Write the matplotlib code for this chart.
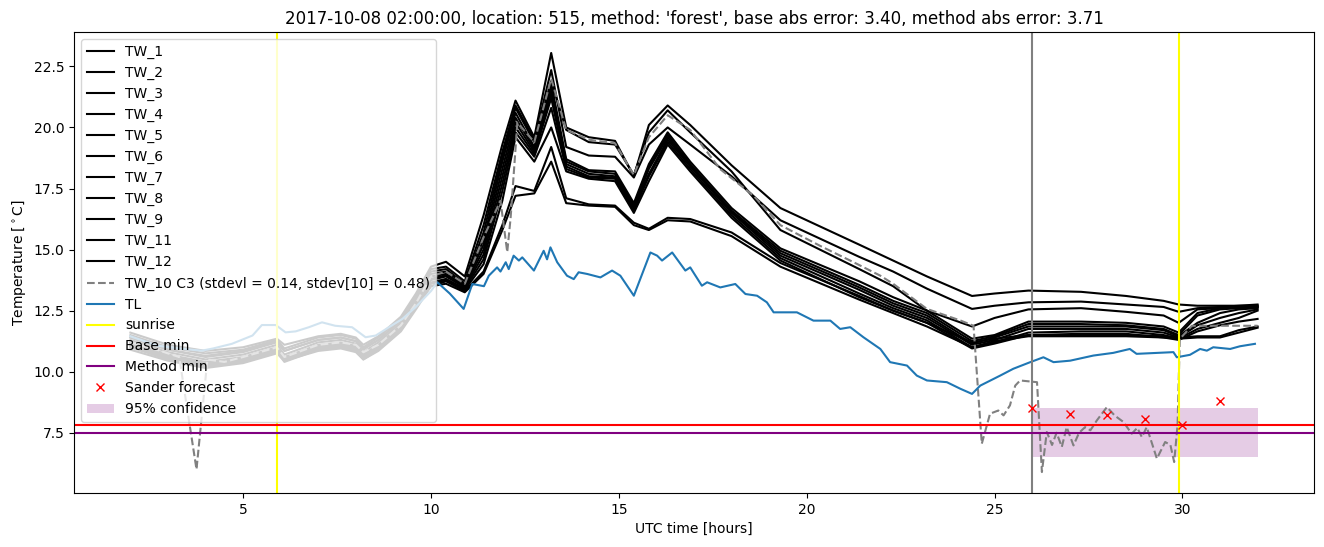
import matplotlib
matplotlib.use("Agg")
import matplotlib.pyplot as plt

title = "2017-10-08 02:00:00, location: 515, method: 'forest', base abs error: 3.40, method abs error: 3.71"

t_tw = [2.0, 3.0, 4.0, 5.0, 5.9, 6.1, 7.0, 7.6, 8.0, 8.2, 8.6, 9.2, 9.6, 10.0,
        10.4, 10.9, 11.4, 11.9, 12.25, 12.75, 13.2, 13.6, 14.2, 14.9, 15.4, 15.8, 16.3, 16.9, 18.0, 19.3,
        21.4, 22.3, 23.2, 24.4, 25.0, 25.9, 27.3, 28.5, 29.5, 29.9, 30.4, 31.0, 31.5, 32.0]

TW_1 = [11.6, 11.1, 10.85, 11.0, 11.35, 11.1, 11.45, 11.55, 11.4, 11.1, 11.45, 12.25, 13.2, 14.3,
        14.5, 13.9, 16.4, 19.3, 21.1, 19.6, 23.05, 20.0, 19.6, 19.45, 18.0, 20.1, 20.9, 20.1, 18.45, 16.7,
        15.2, 14.55, 13.9, 13.1, 13.2, 13.32, 13.27, 13.1, 12.9, 12.75, 12.7, 12.7, 12.7, 12.75]
TW_2 = [11.5, 11.0, 10.75, 10.9, 11.3, 10.95, 11.4, 11.5, 11.35, 11.0, 11.4, 12.2, 13.1, 14.2,
        14.3, 13.7, 16.0, 19.0, 20.9, 19.5, 22.35, 19.2, 18.85, 18.8, 17.95, 19.3, 20.0, 19.3, 18.0, 16.2,
        14.7, 14.1, 13.4, 12.57, 12.7, 12.84, 12.87, 12.75, 12.65, 12.45, 12.6, 12.65, 12.7, 12.7]
TW_3 = [11.4, 10.9, 10.65, 10.85, 11.25, 10.85, 11.3, 11.4, 11.25, 10.9, 11.3, 12.1, 13.0, 14.1,
        14.2, 13.6, 15.7, 18.8, 20.8, 19.4, 21.9, 19.9, 19.4, 19.3, 18.05, 19.8, 20.7, 19.8, 18.2, 15.8,
        14.2, 13.5, 12.5, 11.85, 12.2, 12.55, 12.6, 12.45, 12.3, 12.0, 12.55, 12.6, 12.62, 12.65]
TW_4 = [11.4, 10.9, 10.6, 10.8, 11.2, 10.85, 11.3, 11.4, 11.25, 10.95, 11.3, 12.1, 13.0, 14.0,
        14.1, 13.6, 15.4, 18.6, 20.6, 19.2, 21.8, 18.7, 18.25, 18.2, 16.9, 18.5, 19.8, 18.6, 16.7, 15.05,
        13.7, 13.05, 12.5, 11.35, 11.5, 12.05, 12.05, 12.0, 11.85, 11.6, 12.4, 12.6, 12.65, 12.7]
TW_5 = [11.3, 10.8, 10.5, 10.7, 11.1, 10.7, 11.2, 11.3, 11.15, 10.8, 11.2, 12.0, 12.9, 13.9,
        14.0, 13.55, 15.2, 18.3, 20.4, 19.1, 21.6, 18.6, 18.2, 18.1, 16.8, 18.4, 19.7, 18.5, 16.6, 14.95,
        13.55, 12.9, 12.4, 11.25, 11.45, 11.95, 11.95, 11.9, 11.75, 11.5, 12.3, 12.55, 12.6, 12.65]
TW_6 = [11.2, 10.7, 10.4, 10.6, 11.0, 10.6, 11.1, 11.2, 11.05, 10.7, 11.1, 11.9, 12.8, 13.8,
        13.95, 13.5, 15.0, 18.0, 20.2, 19.0, 21.4, 18.5, 18.1, 18.0, 16.75, 18.3, 19.6, 18.45, 16.55, 14.85,
        13.45, 12.8, 12.3, 11.15, 11.4, 11.85, 11.85, 11.85, 11.7, 11.45, 12.0, 12.4, 12.55, 12.6]
TW_7 = [11.15, 10.65, 10.35, 10.55, 10.95, 10.55, 11.05, 11.15, 11.0, 10.65, 11.05, 11.85, 12.75, 13.75,
        13.9, 13.45, 14.8, 17.7, 20.0, 18.9, 21.2, 18.4, 18.0, 17.95, 16.7, 18.1, 19.5, 18.4, 16.5, 14.75,
        13.35, 12.7, 12.2, 11.1, 11.3, 11.75, 11.75, 11.75, 11.6, 11.4, 11.9, 12.2, 12.4, 12.55]
TW_8 = [11.05, 10.55, 10.25, 10.45, 10.85, 10.45, 10.95, 11.05, 10.9, 10.55, 10.95, 11.75, 12.65, 13.65,
        13.8, 13.4, 14.6, 17.4, 19.8, 18.8, 20.8, 18.3, 17.95, 17.9, 16.6, 18.0, 19.4, 18.3, 16.4, 14.65,
        13.2, 12.6, 12.1, 11.0, 11.2, 11.6, 11.65, 11.65, 11.5, 11.35, 11.75, 12.0, 12.2, 12.5]
TW_9 = [11.0, 10.5, 10.2, 10.4, 10.8, 10.4, 10.9, 11.0, 10.85, 10.5, 10.9, 11.7, 12.6, 13.6,
        13.75, 13.35, 14.4, 17.0, 19.6, 18.6, 20.0, 18.2, 17.9, 17.8, 16.5, 17.8, 19.3, 18.2, 16.3, 14.55,
        13.05, 12.5, 12.0, 10.95, 11.15, 11.5, 11.55, 11.55, 11.4, 11.3, 11.65, 11.9, 12.05, 12.16]
TW_11 = [10.9, 10.45, 10.15, 10.35, 10.75, 10.45, 10.85, 10.95, 10.8, 10.5, 10.85, 11.65, 12.55, 13.5,
         13.7, 13.3, 14.1, 16.0, 17.6, 17.4, 19.2, 17.1, 16.85, 16.8, 16.1, 15.85, 16.3, 16.25, 15.7, 14.45,
         13.1, 12.5, 12.0, 11.2, 11.35, 11.5, 11.5, 11.5, 11.45, 11.4, 11.45, 11.45, 11.7, 11.85]
TW_12 = [11.1, 10.6, 10.3, 10.5, 10.9, 10.5, 11.0, 11.1, 10.95, 10.6, 11.0, 11.8, 12.7, 13.5,
         13.6, 13.25, 14.0, 15.8, 17.2, 17.3, 18.6, 16.9, 16.8, 16.75, 16.0, 15.8, 16.2, 16.15, 15.55, 14.3,
         12.95, 12.4, 11.85, 11.0, 11.25, 11.45, 11.45, 11.45, 11.4, 11.35, 11.4, 11.4, 11.6, 11.8]

tw_names = ["TW_1", "TW_2", "TW_3", "TW_4", "TW_5", "TW_6", "TW_7", "TW_8", "TW_9", "TW_11", "TW_12"]
tw_series = [TW_1, TW_2, TW_3, TW_4, TW_5, TW_6, TW_7, TW_8, TW_9, TW_11, TW_12]

t_tw10 = [2.0, 2.7, 3.3, 3.76, 4.05, 4.5, 5.0, 5.9, 6.1, 7.0, 7.6, 8.0, 8.2, 8.6, 9.2, 9.6, 10.0,
          10.4, 10.9, 11.4, 11.85, 12.03, 12.12, 12.3, 12.75, 13.2, 13.6, 14.2, 14.9, 15.4, 15.8, 16.3,
          16.9, 17.7, 18.59, 19.3, 20.36, 21.25, 21.96, 22.3, 23.2, 24.1, 24.44,
          24.66, 24.88, 25.1, 25.24, 25.41, 25.55, 25.68, 26.13, 26.26, 26.39, 26.53, 26.65, 26.79, 26.92,
          27.1, 27.25, 27.41, 27.55, 27.72, 27.99, 28.2, 28.43, 28.65, 28.8, 28.92, 29.05, 29.32, 29.54,
          29.68, 29.78, 29.87, 29.93, 30.25, 32.0]
tw10_vals = [11.2, 10.9, 10.6, 6.0, 10.5, 10.4, 10.6, 11.0, 10.6, 11.1, 11.2, 11.1, 10.8, 11.1, 11.9, 12.8, 13.9,
             14.1, 13.6, 15.5, 17.0, 14.9, 16.3, 20.2, 19.4, 22.0, 19.9, 19.5, 19.35, 18.05, 19.6, 20.5,
             19.9, 18.29, 17.2, 16.0, 15.15, 14.48, 13.93, 13.6, 12.57, 12.09, 11.88,
             7.05, 8.28, 8.41, 8.21, 8.62, 9.43, 9.64, 9.57, 5.89, 7.53, 7.0, 7.5, 6.92, 7.73,
             6.98, 7.5, 7.73, 7.6, 8.0, 8.55, 8.2, 7.94, 7.46, 7.7, 7.32, 7.73, 6.44, 7.12,
             7.0, 6.3, 7.8, 11.34, 11.88, 11.88]

t_tl = [2.0, 2.7, 3.3, 3.9, 4.2, 4.7, 5.25, 5.5, 5.87, 6.13, 6.4, 6.75, 7.1, 7.45, 7.9, 8.26, 8.53, 8.88,
        9.24, 9.59, 10.0, 10.17, 10.5, 10.87, 11.1, 11.41, 11.54, 11.76, 11.85, 11.99, 12.07, 12.2, 12.34,
        12.43, 12.74, 13.0, 13.09, 13.18, 13.36, 13.62, 13.8, 13.93, 14.16, 14.51, 14.82, 15.04, 15.4,
        15.84, 16.02, 16.15, 16.42, 16.77, 16.9, 17.04, 17.21, 17.35, 17.7, 18.1, 18.37, 18.68, 18.94,
        19.12, 19.48, 19.74, 20.18, 20.63, 20.89, 21.16, 21.51, 21.96, 22.22, 22.67, 22.93, 23.2, 23.73,
        24.09, 24.4, 24.62, 25.15, 25.5, 25.95, 26.3, 26.57, 27.01, 27.63, 28.16, 28.6, 28.78, 29.76,
        29.85, 30.2, 30.47, 30.65, 30.82, 31.27, 31.53, 31.93]
tl_vals = [11.45, 11.07, 10.95, 10.86, 10.95, 11.14, 11.48, 11.91, 11.91, 11.61, 11.65, 11.82, 12.02, 11.88,
           11.82, 11.41, 11.48, 11.82, 12.16, 12.64, 13.3, 13.66, 13.2, 12.57, 13.59, 13.5, 13.93, 14.27,
           14.1, 14.48, 14.2, 14.75, 14.55, 14.68, 14.14, 14.95, 14.6, 15.09, 14.48, 13.93, 13.79, 14.07,
           14.0, 13.86, 14.14, 13.93, 13.11, 14.88, 14.75, 14.55, 14.88, 14.14, 14.27, 13.93, 13.52, 13.66,
           13.45, 13.59, 13.18, 13.11, 12.84, 12.43, 12.43, 12.43, 12.09, 12.09, 11.75, 11.82, 11.41, 10.93,
           10.39, 10.25, 9.84, 9.64, 9.57, 9.3, 9.09, 9.43, 9.84, 10.12, 10.39, 10.59, 10.39, 10.45, 10.66,
           10.77, 10.93, 10.73, 10.8, 10.59, 10.69, 10.93, 10.86, 11.0, 10.93, 11.04, 11.14]

sunrise_hours = [5.89, 29.9]
now_hour = 26.0
base_min = 7.83
method_min = 7.505
ci_low, ci_high = 6.49, 8.52
ci_hours = [26.0, 32.0]
sander_hours = [26, 27, 28, 29, 30, 31]
sander_vals = [8.51, 8.28, 8.24, 8.05, 7.83, 8.79]

fig, ax = plt.subplots(figsize=(13.24, 5.47), dpi=100)
fig.subplots_adjust(left=0.0559, right=0.9924, top=0.9415, bottom=0.0987)

for name, vals in zip(tw_names, tw_series):
    ax.plot(t_tw, vals, color="black", label=name)
ax.plot(t_tw10, tw10_vals, color="gray", ls="--",
        label="TW_10 C3 (stdevl = 0.14, stdev[10] = 0.48)")
ax.plot(t_tl, tl_vals, color="C0", label="TL")
for i, s in enumerate(sunrise_hours):
    ax.axvline(s, color="yellow", label="sunrise" if i == 0 else None)
ax.axvline(now_hour, color="gray")
ax.axhline(base_min, color="red", label="Base min")
ax.axhline(method_min, color="purple", label="Method min")
ax.plot(sander_hours, sander_vals, "rx", label="Sander forecast")
ax.fill_between(ci_hours, [ci_low, ci_low], [ci_high, ci_high], color="purple", alpha=0.2,
                lw=0, label="95% confidence")

ax.set_title(title)
ax.set_xlabel("UTC time [hours]")
ax.set_ylabel(r"Temperature [$^\circ$C]")
ax.legend(loc="upper left")

fig.savefig("out.png", dpi=100)
